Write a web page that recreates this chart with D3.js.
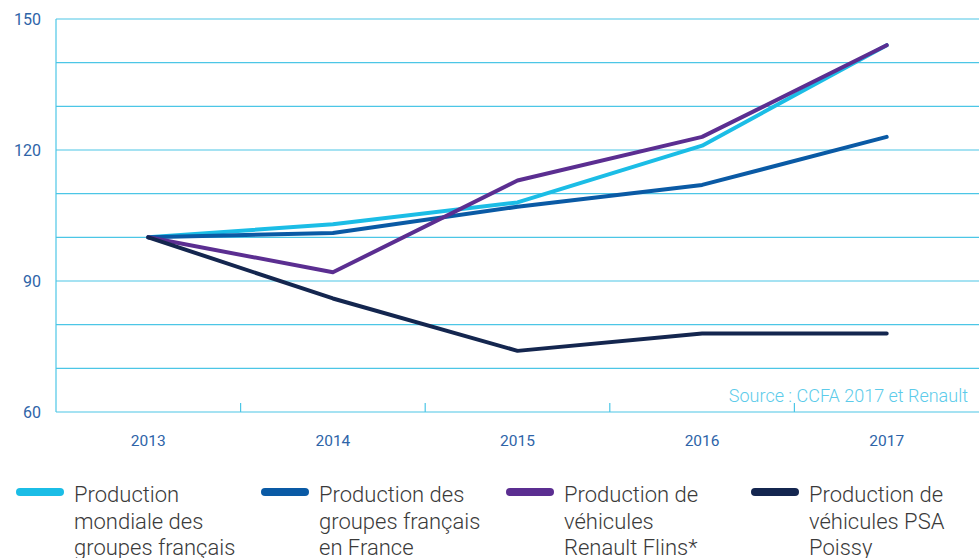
<!DOCTYPE html>
<meta charset="utf-8">
<style>
body { margin: 0; background: #fff; font-family: Roboto, sans-serif; }
.grid line { stroke: #4cc6e6; stroke-width: 1.2px; }
.line { fill: none; stroke-width: 4px; stroke-linejoin: round; stroke-linecap: round; }
.tick-lbl { fill: #2e64a8; font-size: 14px; }
.leg text { fill: #3a3a3a; font-size: 22px; font-weight: 300; }
</style>
<body>
<svg width="979" height="558"></svg>
<script src="https://d3js.org/d3.v7.min.js"></script>
<script>
var years = ["2013", "2014", "2015", "2016", "2017"];
var yTicks = [60, 90, 120, 150];
var mondiale = [100, 103, 108, 121, 144];
var groupesFrance = [100, 101, 107, 112, 123];
var renaultFlins = [100, 92, 113, 123, 144];
var psaPoissy = [100, 86, 74, 78, 78];
var seriesNames = [
  ["Production", "mondiale des", "groupes français"],
  ["Production des", "groupes français", "en France"],
  ["Production de", "véhicules", "Renault Flins*"],
  ["Production de", "véhicules PSA", "Poissy"]
];
var colors = ["#1bbde6", "#0a5aa5", "#5b2e91", "#14264f"];

var series = [mondiale, groupesFrance, renaultFlins, psaPoissy].map(function(v, i) {
  return { name: seriesNames[i], color: colors[i], values: v };
});

var svg = d3.select("svg");
var plotL = 56, plotR = 979, plotT = 19, plotB = 412;

var x = d3.scaleBand().domain(years).range([plotL, plotR]);
var y = d3.scaleLinear().domain([60, 150]).range([plotB, plotT]);

// horizontal gridlines every 10
var grid = svg.append("g").attr("class", "grid");
grid.selectAll("line.h")
  .data(d3.range(60, 151, 10))
  .enter().append("line")
    .attr("x1", plotL).attr("x2", plotR)
    .attr("y1", function(d) { return y(d); })
    .attr("y2", function(d) { return y(d); });
grid.append("line")
  .attr("x1", plotL).attr("x2", plotL)
  .attr("y1", plotT).attr("y2", plotB);
// small ticks between years
grid.selectAll("line.t")
  .data(years.slice(1))
  .enter().append("line")
    .attr("x1", function(d) { return x(d); })
    .attr("x2", function(d) { return x(d); })
    .attr("y1", plotB - 9).attr("y2", plotB);

// y labels
svg.selectAll("text.yl")
  .data(yTicks)
  .enter().append("text")
    .attr("class", "tick-lbl")
    .attr("x", 41)
    .attr("y", function(d) { return y(d); })
    .attr("dy", "0.35em")
    .attr("text-anchor", "end")
    .style("font-size", "16px")
    .text(function(d) { return d; });

// x labels
svg.selectAll("text.xl")
  .data(years)
  .enter().append("text")
    .attr("class", "tick-lbl")
    .attr("x", function(d) { return x(d) + x.bandwidth() / 2; })
    .attr("y", 446)
    .attr("text-anchor", "middle")
    .style("font-size", "15.5px")
    .text(function(d) { return d; });

svg.append("text")
  .attr("x", 968).attr("y", 402)
  .attr("text-anchor", "end")
  .style("fill", "#5ccbea")
  .style("font-size", "18px")
  .style("font-weight", 300)
  .text("Source : CCFA 2017 et Renault");

var line = d3.line()
  .x(function(d, i) { return x(years[i]) + x.bandwidth() / 2; })
  .y(function(d) { return y(d); });

svg.selectAll("path.line")
  .data(series)
  .enter().append("path")
    .attr("class", "line")
    .attr("stroke", function(d) { return d.color; })
    .attr("d", function(d) { return line(d.values); });

// legend
var leg = svg.selectAll("g.leg")
  .data(series)
  .enter().append("g")
    .attr("class", "leg")
    .attr("transform", function(d, i) { return "translate(" + (20 + i * 245) + ",0)"; });
leg.append("line")
  .attr("x1", 0).attr("x2", 40)
  .attr("y1", 492).attr("y2", 492)
  .attr("stroke", function(d) { return d.color; })
  .attr("stroke-width", 8)
  .attr("stroke-linecap", "round");
leg.append("text")
  .attr("x", 54)
  .selectAll("tspan")
  .data(function(d) { return d.name; })
  .enter().append("tspan")
    .attr("x", 54)
    .attr("y", function(d, i) { return 502 + i * 26.5; })
    .text(function(d) { return d; });
</script>
</body>
